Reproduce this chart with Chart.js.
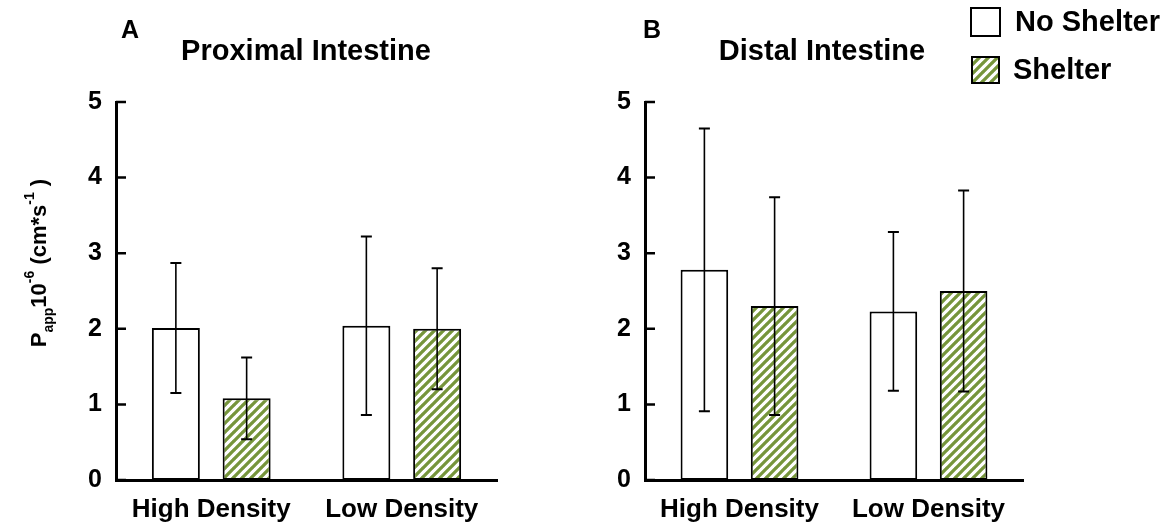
<!DOCTYPE html>
<html>
<head>
<meta charset="utf-8">
<script src="https://cdn.jsdelivr.net/npm/chart.js@4.4.0/dist/chart.umd.min.js"></script>
<style>
html, body { margin: 0; padding: 0; background: #fff; }
#wrap { position: relative; width: 1164px; height: 524px; overflow: hidden; }
#wrap canvas { position: absolute; top: 0; }
</style>
</head>
<body>
<div id="wrap">
    <canvas id="proximal-chart" width="560" height="524" style="left:0;width:560px;height:524px"></canvas>
    <canvas id="distal-chart" width="604" height="524" style="left:560px;width:604px;height:524px"></canvas>
</div>
<script>
'use strict';

// Categories, series and y ticks.
const categories = ['High Density', 'Low Density'];
const seriesNames = ['No Shelter', 'Shelter'];
const yTicks = [0, 1, 2, 3, 4, 5];

// Proximal intestine: mean and SD.
const proximalNoShelter = [2.01, 2.04];
const proximalNoShelterSd = [0.86, 1.18];
const proximalShelter = [1.08, 2.00];
const proximalShelterSd = [0.54, 0.80];

// Distal intestine: mean and SD.
const distalNoShelter = [2.78, 2.23];
const distalNoShelterSd = [1.87, 1.05];
const distalShelter = [2.30, 2.50];
const distalShelterSd = [1.44, 1.33];

const FONT = "'Liberation Sans', Arial, Helvetica, sans-serif";
const GREEN = '#76953b';

Chart.defaults.font.family = FONT;
Chart.defaults.color = '#000';

const boldFont = (size) => 'bold ' + size + 'px ' + FONT;

/**
 * Diagonal green/white stripes used for the Shelter bars.
 */
const makeHatch = (ctx) => {
    const size = 9;
    const tile = document.createElement('canvas');
    tile.width = size;
    tile.height = size;
    const c = tile.getContext('2d');
    c.fillStyle = '#fff';
    c.fillRect(0, 0, size, size);
    c.strokeStyle = GREEN;
    c.lineWidth = 3.3;
    c.beginPath();
    [-size, 0, size].forEach((k) => {
        c.moveTo(k - 1, size + 1);
        c.lineTo(k + size + 1, -1);
    });
    c.stroke();
    return ctx.createPattern(tile, 'repeat');
};

/**
 * Error bars: mean +/- SD, taken from dataset.sd.
 */
const errorBars = {
    id: 'errorBars',
    afterDatasetsDraw(chart) {
        const ctx = chart.ctx;
        const y = chart.scales.y;
        ctx.save();
        ctx.strokeStyle = '#000';
        chart.data.datasets.forEach((ds, i) => {
            const meta = chart.getDatasetMeta(i);
            meta.data.forEach((bar, j) => {
                const top = y.getPixelForValue(ds.data[j] + ds.sd[j]);
                const bottom = y.getPixelForValue(ds.data[j] - ds.sd[j]);
                ctx.lineWidth = 1.6;
                ctx.beginPath();
                ctx.moveTo(bar.x, top);
                ctx.lineTo(bar.x, bottom);
                ctx.stroke();
                ctx.lineWidth = 2;
                ctx.beginPath();
                ctx.moveTo(bar.x - 5.5, top);
                ctx.lineTo(bar.x + 5.5, top);
                ctx.moveTo(bar.x - 5.5, bottom);
                ctx.lineTo(bar.x + 5.5, bottom);
                ctx.stroke();
            });
        });
        ctx.restore();
    },
};

/**
 * Tick marks pointing into the plot area.
 */
const innerTicks = {
    id: 'innerTicks',
    afterDraw(chart) {
        const ctx = chart.ctx;
        const y = chart.scales.y;
        const left = chart.chartArea.left;
        ctx.save();
        ctx.strokeStyle = '#000';
        ctx.lineWidth = 2.5;
        ctx.beginPath();
        yTicks.forEach((v) => {
            const py = y.getPixelForValue(v);
            ctx.moveTo(left, py);
            ctx.lineTo(left + 10, py);
        });
        ctx.stroke();
        ctx.restore();
    },
};

/**
 * Y axis title with subscript and superscripts, rotated.
 */
const drawRichVertical = (ctx, parts, cx, cy) => {
    let total = 0;
    parts.forEach((p) => {
        ctx.font = boldFont(p.size);
        p.w = ctx.measureText(p.text).width;
        total += p.w;
    });
    ctx.save();
    ctx.translate(cx, cy);
    ctx.rotate(-Math.PI / 2);
    ctx.fillStyle = '#000';
    ctx.textBaseline = 'alphabetic';
    ctx.textAlign = 'left';
    let x = -total / 2;
    parts.forEach((p) => {
        ctx.font = boldFont(p.size);
        ctx.fillText(p.text, x, p.dy);
        x += p.w;
    });
    ctx.restore();
};

/**
 * Panel letter, panel title, and the extras (axis title or legend).
 */
const panelText = (letter, letterX, title, titleX, extra) => ({
    id: 'panelText',
    afterDraw(chart) {
        const ctx = chart.ctx;
        ctx.save();
        ctx.fillStyle = '#000';
        ctx.textBaseline = 'alphabetic';
        ctx.font = boldFont(25);
        ctx.textAlign = 'left';
        ctx.fillText(letter, letterX, 38);
        ctx.font = boldFont(29);
        ctx.textAlign = 'center';
        ctx.fillText(title, titleX, 60);
        ctx.restore();
        if (extra) {
            extra(chart);
        }
    },
});

const yTitle = (chart) => {
    drawRichVertical(chart.ctx, [
        {text: 'P', size: 22, dy: 0},
        {text: 'app', size: 14, dy: 7},
        {text: '10', size: 22, dy: 0},
        {text: '-6', size: 14, dy: -12},
        {text: ' (cm*s', size: 22, dy: 0},
        {text: '-1', size: 14, dy: -12},
        {text: ' )', size: 22, dy: 0},
    ], 46, 263);
};

const legend = (chart) => {
    const ctx = chart.ctx;
    const ds = chart.data.datasets;
    const boxes = [
        {x: 411, y: 8, w: 29, h: 28, ty: 23, tx: 455},
        {x: 412, y: 57, w: 27, h: 26, ty: 71, tx: 453},
    ];
    ctx.save();
    boxes.forEach((b, i) => {
        ctx.fillStyle = ds[i].backgroundColor;
        ctx.fillRect(b.x, b.y, b.w, b.h);
        ctx.strokeStyle = '#000';
        ctx.lineWidth = 2;
        ctx.strokeRect(b.x, b.y, b.w, b.h);
        ctx.fillStyle = '#000';
        ctx.font = boldFont(29);
        ctx.textAlign = 'left';
        ctx.textBaseline = 'middle';
        ctx.fillText(ds[i].label, b.tx, b.ty);
    });
    ctx.restore();
};

/**
 * Render one intestine panel.
 */
const renderPanel = (canvasId, panel) => {
    const canvas = document.getElementById(canvasId);
    const hatch = makeHatch(canvas.getContext('2d'));
    const barStyle = {
        borderColor: '#000',
        borderWidth: 2,
        borderSkipped: false,
        categoryPercentage: 0.743,
        barPercentage: 0.678,
    };
    return new Chart(canvas, {
        type: 'bar',
        data: {
            labels: categories,
            datasets: [
                Object.assign({
                    label: seriesNames[0],
                    data: panel.noShelter,
                    sd: panel.noShelterSd,
                    backgroundColor: '#fff',
                }, barStyle),
                Object.assign({
                    label: seriesNames[1],
                    data: panel.shelter,
                    sd: panel.shelterSd,
                    backgroundColor: hatch,
                }, barStyle),
            ],
        },
        options: {
            responsive: false,
            animation: false,
            events: [],
            layout: {
                padding: {top: 102, right: panel.padRight, bottom: 0, left: 0},
            },
            plugins: {
                legend: {display: false},
                tooltip: {enabled: false},
            },
            scales: {
                x: {
                    grid: {display: false, drawTicks: false},
                    border: {color: '#000', width: 3},
                    ticks: {
                        color: '#000',
                        font: {size: 26, weight: 'bold'},
                        padding: 14,
                        maxRotation: 0,
                    },
                    afterFit: (scale) => {
                        scale.height = 44;
                    },
                },
                y: {
                    min: 0,
                    max: 5,
                    grid: {display: false, drawTicks: false},
                    border: {color: '#000', width: 3},
                    ticks: {
                        stepSize: 1,
                        color: '#000',
                        font: {size: 25, weight: 'bold'},
                        padding: 14,
                    },
                    afterFit: (scale) => {
                        scale.width = panel.axisLeft;
                    },
                },
            },
        },
        plugins: [errorBars, innerTicks, panel.text],
    });
};

renderPanel('proximal-chart', {
    noShelter: proximalNoShelter,
    noShelterSd: proximalNoShelterSd,
    shelter: proximalShelter,
    shelterSd: proximalShelterSd,
    axisLeft: 116,
    padRight: 63,
    text: panelText('A', 121, 'Proximal Intestine', 306, yTitle),
});

renderPanel('distal-chart', {
    noShelter: distalNoShelter,
    noShelterSd: distalNoShelterSd,
    shelter: distalShelter,
    shelterSd: distalShelterSd,
    axisLeft: 85,
    padRight: 141,
    text: panelText('B', 83, 'Distal Intestine', 262, legend),
});
</script>
</body>
</html>
